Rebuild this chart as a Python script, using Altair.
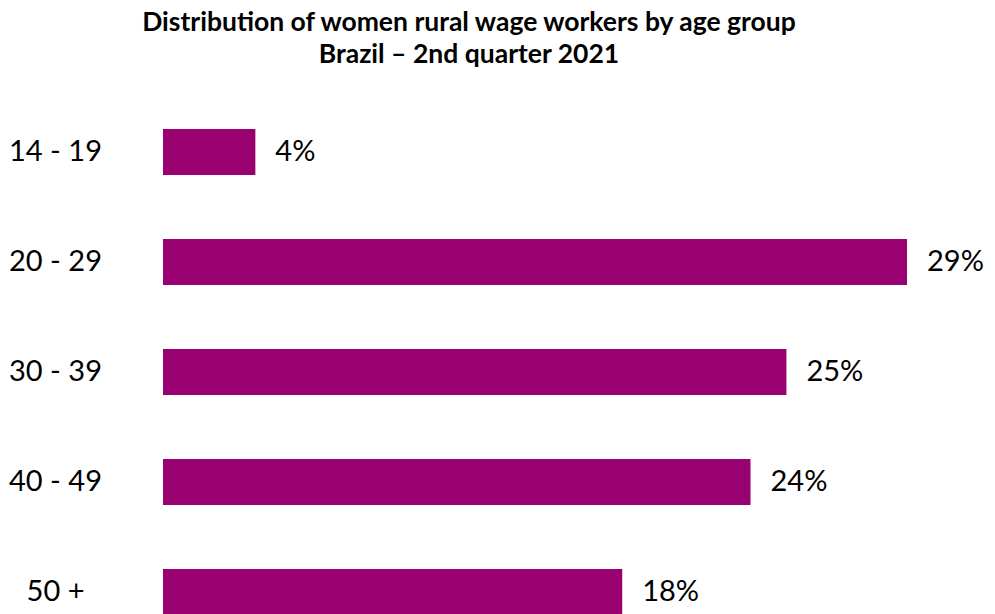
import altair as alt
import pandas as pd

age_groups = ["14 - 19", "20 - 29", "30 - 39", "40 - 49", "50 +"]
bar_values = [3.6, 29.0, 24.3, 22.9, 17.9]
bar_labels = ["4%", "29%", "25%", "24%", "18%"]

df = pd.DataFrame({"age": age_groups, "value": bar_values, "label": bar_labels})

FONT = "Lato"
COLOR = "#990070"

y_enc = alt.Y(
    "age:N",
    sort=age_groups,
    scale=alt.Scale(paddingInner=0.582, paddingOuter=0.291),
    axis=alt.Axis(
        title=None, domain=False, ticks=False, grid=False,
        labelAlign="center", labelPadding=108, labelFontSize=29,
        labelFont=FONT, labelColor="#000000", labelBaseline="middle",
    ),
)
x_enc = alt.X("value:Q", scale=alt.Scale(domain=[0, 29], nice=False, zero=True), axis=None)

bars = alt.Chart(df).mark_bar(color=COLOR).encode(x=x_enc, y=y_enc)
text = alt.Chart(df).mark_text(
    align="left", baseline="middle", dx=20, fontSize=29, font=FONT, color="#000000"
).encode(x=x_enc, y=alt.Y("age:N", sort=age_groups), text="label:N")

chart = (
    alt.layer(bars, text)
    .properties(
        width=744,
        height=550,
        title=alt.TitleParams(
            text=["Distribution of women rural wage workers by age group", "Brazil – 2nd quarter 2021"],
            font=FONT, fontSize=26.5, fontWeight="bold", color="#000000",
            anchor="start", align="center", frame="group", dx=306, lineHeight=32, offset=29,
        ),
        autosize=alt.AutoSizeParams(type="none"),
        padding={"left": 163, "top": 97, "right": 88, "bottom": 0},
    )
    .configure_view(stroke=None)
)

chart.save("out.html", embed_options={"renderer": "svg", "actions": False})
